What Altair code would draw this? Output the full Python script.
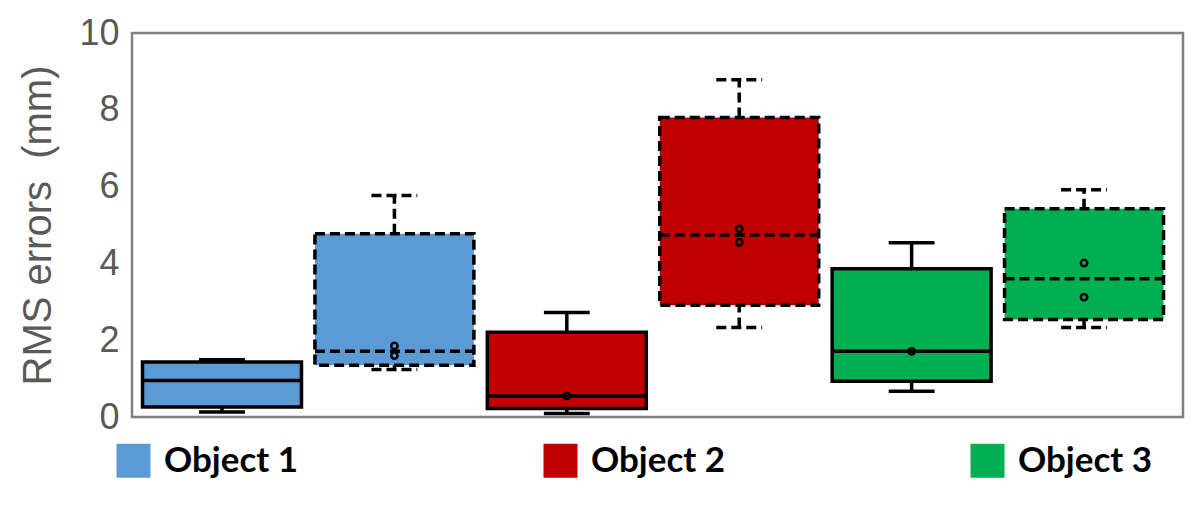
import altair as alt
import pandas as pd

# ---- data ----
objects = ["Object 1", "Object 1", "Object 2", "Object 2", "Object 3", "Object 3"]
styles = ["solid", "dashed", "solid", "dashed", "solid", "dashed"]
lower = [0.13, 1.24, 0.09, 2.33, 0.67, 2.33]
q1 = [0.26, 1.35, 0.22, 2.91, 0.93, 2.54]
median = [0.95, 1.71, 0.55, 4.74, 1.71, 3.60]
q3 = [1.43, 4.77, 2.21, 7.80, 3.86, 5.42]
upper = [1.49, 5.77, 2.72, 8.78, 4.54, 5.92]

marker_box = [1, 1, 2, 3, 3, 4, 5, 5]
marker_val = [1.85, 1.60, 0.55, 4.90, 4.55, 1.71, 4.01, 3.12]

object_names = ["Object 1", "Object 2", "Object 3"]
object_colors = ["#5B9BD5", "#C00000", "#00B050"]
y_ticks = [0, 2, 4, 6, 8, 10]

BOX_HALF = 0.461
CAP_HALF = 0.133

df = pd.DataFrame({
    "object": objects, "style": styles, "lower": lower, "q1": q1,
    "median": median, "q3": q3, "upper": upper,
})
df["pos"] = list(range(len(df)))
df["bx0"] = df["pos"] - BOX_HALF
df["bx1"] = df["pos"] + BOX_HALF
df["cx0"] = df["pos"] - CAP_HALF
df["cx1"] = df["pos"] + CAP_HALF

mk = pd.DataFrame({"pos": marker_box, "value": marker_val})

xs = alt.Scale(domain=[-0.522, 5.574], nice=False, zero=False)
ys = alt.Scale(domain=[0, 10], nice=False)

DASH = [10, 5]
dash = alt.StrokeDash("style:N",
                      scale=alt.Scale(domain=["solid", "dashed"], range=[[1, 0], DASH]),
                      legend=None)

yaxis = alt.Axis(values=y_ticks, domain=False, ticks=False, grid=False,
                 labelFontSize=36, labelFont="Liberation Sans", labelColor="#595959",
                 labelPadding=13, title="RMS errors\u00a0 (mm)", titleFontSize=40,
                 titleFont="Liberation Sans", titleFontWeight="normal",
                 titleColor="#595959", titlePadding=20)

base = alt.Chart(df)
LW = 3.5

whisk_hi = base.mark_rule(color="black", strokeWidth=LW).encode(
    x=alt.X("pos:Q", scale=xs, axis=None),
    y=alt.Y("q3:Q", scale=ys, axis=yaxis),
    y2="upper:Q", strokeDash=dash)
whisk_lo = base.mark_rule(color="black", strokeWidth=LW).encode(
    x=alt.X("pos:Q", scale=xs, axis=None),
    y=alt.Y("lower:Q", scale=ys),
    y2="q1:Q", strokeDash=dash)

color_enc = alt.Color("object:N",
                      scale=alt.Scale(domain=object_names, range=object_colors),
                      legend=alt.Legend(orient="none", legendX=-16, legendY=410,
                                        direction="horizontal", title=None,
                                        symbolType="square", symbolSize=1156,
                                        symbolStrokeWidth=0, symbolOpacity=1,
                                        labelFont="Lato", labelFontSize=35,
                                        labelFontWeight="bold", labelColor="black",
                                        labelOffset=13))

boxes_solid = base.transform_filter(alt.datum.style == "solid").mark_rect(
    stroke="black", strokeWidth=LW, opacity=1).encode(
    x=alt.X("bx0:Q", scale=xs, axis=None), x2="bx1:Q",
    y=alt.Y("q1:Q", scale=ys), y2="q3:Q",
    color=color_enc)
boxes_dashed = base.transform_filter(alt.datum.style == "dashed").mark_rect(
    stroke="black", strokeWidth=LW, strokeDash=DASH, opacity=1).encode(
    x=alt.X("bx0:Q", scale=xs, axis=None), x2="bx1:Q",
    y=alt.Y("q1:Q", scale=ys), y2="q3:Q",
    color=color_enc)

medians = base.mark_rule(color="black", strokeWidth=LW).encode(
    x=alt.X("bx0:Q", scale=xs, axis=None), x2="bx1:Q",
    y=alt.Y("median:Q", scale=ys), strokeDash=dash)

caps_hi = base.mark_rule(color="black", strokeWidth=LW).encode(
    x=alt.X("cx0:Q", scale=xs, axis=None), x2="cx1:Q",
    y=alt.Y("upper:Q", scale=ys), strokeDash=dash)
caps_lo = base.mark_rule(color="black", strokeWidth=LW).encode(
    x=alt.X("cx0:Q", scale=xs, axis=None), x2="cx1:Q",
    y=alt.Y("lower:Q", scale=ys), strokeDash=dash)

markers = alt.Chart(mk).mark_point(shape="circle", size=40, filled=False,
                                   stroke="black", strokeWidth=2.5, opacity=1).encode(
    x=alt.X("pos:Q", scale=xs, axis=None),
    y=alt.Y("value:Q", scale=ys))

chart = alt.layer(whisk_hi, whisk_lo, boxes_solid, boxes_dashed, medians,
                  caps_hi, caps_lo, markers).properties(
    width=1051, height=384,
    autosize=alt.AutoSizeParams(type="none"),
    padding={"left": 124, "top": 25, "right": 5, "bottom": 90},
).configure_view(stroke="#808080", strokeWidth=2.5).configure_legend(
    gridAlign="all", columns=3, columnPadding=244)

chart.save("out.html", embed_options={"renderer": "svg", "actions": False})
